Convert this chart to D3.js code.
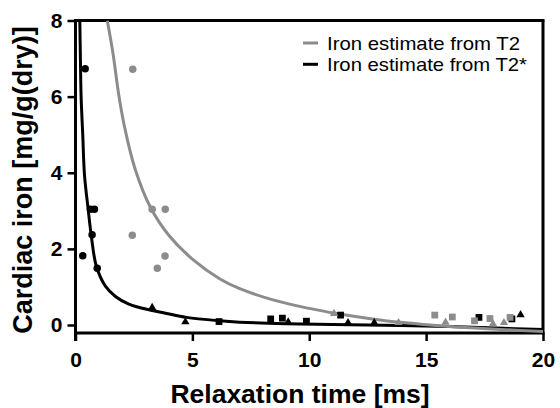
<!DOCTYPE html>
<html>
<head>
<meta charset="utf-8">
<script src="https://cdn.jsdelivr.net/npm/d3@7"></script>
<style>
  html, body { margin: 0; padding: 0; background: #fff; }
  svg { display: block; }
  text { font-family: "Liberation Sans", Arial, Helvetica, sans-serif; }
</style>
</head>
<body>
<svg id="chart" width="560" height="408"></svg>
<script>
// ---- data ----
const xTicks = [0, 5, 10, 15, 20];
const yTicks = [0, 2, 4, 6, 8];
const xLabel = "Relaxation time [ms]";
const yLabel = "Cardiac iron [mg/g(dry)]";
const legendLabels = ["Iron estimate from T2", "Iron estimate from T2*"];

// fitted curves
const curveT2 = [[1.36, 8.0], [1.6, 7.15], [1.85, 6.05], [2.1, 5.2], [2.55, 4.1], [3.2, 3.1], [4.0, 2.35], [5.0, 1.73], [6.2, 1.2], [7.0, 0.96], [8.45, 0.66], [9.88, 0.45], [11.3, 0.29], [12.7, 0.16], [13.9, 0.07], [16.0, -0.04], [18.0, -0.11], [20.0, -0.17]];
const curveT2star = [[0.185, 8.0], [0.21, 7.0], [0.24, 6.0], [0.31, 5.0], [0.385, 3.94], [0.54, 3.05], [0.685, 2.3], [0.89, 1.55], [1.28, 1.02], [1.71, 0.75], [2.28, 0.55], [3.28, 0.38], [3.85, 0.31], [4.74, 0.2], [6.17, 0.11], [7.02, 0.075], [9.0, 0.035], [11.0, 0.015], [13.88, -0.01], [16.0, -0.04], [18.0, -0.08], [20.0, -0.12]];

// measured points
const t2starCircles = [[0.415, 6.73], [0.64, 3.04], [0.81, 3.04], [0.71, 2.37], [0.31, 1.82], [0.93, 1.49]];
const t2Circles = [[2.45, 6.72], [3.28, 3.04], [3.84, 3.04], [2.43, 2.36], [3.83, 1.81], [3.5, 1.49]];
const t2starTriangles = [[3.28, 0.46], [4.70, 0.08], [9.1, 0.08], [11.66, 0.06], [12.78, 0.06], [19.04, 0.27]];
const t2starSquares = [[6.14, 0.09], [8.35, 0.16], [8.85, 0.18], [9.88, 0.1], [11.34, 0.26], [17.26, 0.2], [18.67, 0.16]];
const t2Squares = [[15.37, 0.26], [16.12, 0.21], [17.07, 0.11], [17.73, 0.17], [18.59, 0.2]];
const t2Triangles = [[11.06, 0.3], [13.82, 0.06], [15.83, 0.07], [17.86, 0.03], [18.33, 0.06]];

// ---- drawing ----
const GRAY = "#8c8c8c";
const BLACK = "#000";
const svg = d3.select("#chart");

const plotL = 75.5, plotR = 543, plotT = 20.5, axisY = 333;
const x = d3.scaleLinear().domain([0, 20]).range([plotL, plotR]);
const y = d3.scaleLinear().domain([0, 8]).range([325, plotT]);

// clip
svg.append("defs").append("clipPath").attr("id", "plotclip")
  .append("rect").attr("x", plotL).attr("y", plotT).attr("width", plotR - plotL).attr("height", axisY - plotT);

// frame: top & right
svg.append("line").attr("x1", plotL).attr("x2", plotR + 1.5).attr("y1", plotT).attr("y2", plotT)
  .attr("stroke", BLACK).attr("stroke-width", 3);
svg.append("line").attr("x1", plotR).attr("x2", plotR).attr("y1", plotT).attr("y2", axisY)
  .attr("stroke", BLACK).attr("stroke-width", 3);

// x axis
const xAxis = d3.axisBottom(x).tickValues(xTicks).tickSize(8).tickPadding(11).tickFormat(d3.format("d"));
const gx = svg.append("g").attr("transform", `translate(0,${axisY})`).call(xAxis);
gx.select(".domain").attr("stroke-width", 3).attr("d", `M${plotL - 1.5},0H${plotR + 1.5}`);
gx.selectAll(".tick line").attr("stroke-width", 2.5);
gx.selectAll(".tick text").attr("font-size", 21).attr("font-weight", "bold").attr("fill", BLACK)
  .attr("font-family", "Liberation Sans, Arial, sans-serif").attr("dy", "0.71em");

// y axis
const yAxis = d3.axisLeft(y).tickValues(yTicks).tickSize(8).tickPadding(5).tickFormat(d3.format("d"));
const gy = svg.append("g").attr("transform", `translate(${plotL},0)`).call(yAxis);
gy.select(".domain").attr("stroke-width", 3).attr("d", `M0,${plotT - 1.5}V${axisY + 8}`);
gy.selectAll(".tick line").attr("stroke-width", 2.5);
gy.selectAll(".tick text").attr("font-size", 21).attr("font-weight", "bold").attr("fill", BLACK)
  .attr("font-family", "Liberation Sans, Arial, sans-serif");

// curves
const line = d3.line().x(d => x(d[0])).y(d => y(d[1])).curve(d3.curveCatmullRom.alpha(0.5));
const plot = svg.append("g").attr("clip-path", "url(#plotclip)");
plot.append("path").datum(curveT2star).attr("d", line).attr("fill", "none")
  .attr("stroke", BLACK).attr("stroke-width", 3);
plot.append("path").datum(curveT2).attr("d", line).attr("fill", "none")
  .attr("stroke", GRAY).attr("stroke-width", 3);

// markers
function drawPoints(data, type, size, color) {
  const sym = d3.symbol().type(type).size(size);
  svg.append("g").selectAll("path").data(data).join("path")
    .attr("d", sym)
    .attr("transform", d => `translate(${x(d[0])},${y(d[1])})`)
    .attr("fill", color);
}
drawPoints(t2starCircles, d3.symbolCircle, 44, BLACK);
drawPoints(t2starTriangles, d3.symbolTriangle, 30, BLACK);
drawPoints(t2starSquares, d3.symbolSquare, 46, BLACK);
drawPoints(t2Circles, d3.symbolCircle, 44, GRAY);
drawPoints(t2Triangles, d3.symbolTriangle, 30, GRAY);
drawPoints(t2Squares, d3.symbolSquare, 46, GRAY);

// legend
const legendColors = [GRAY, BLACK];
const lg = svg.append("g");
legendLabels.forEach((lab, i) => {
  const cy = 43 + i * 21.3;
  lg.append("line").attr("x1", 303).attr("x2", 318).attr("y1", cy).attr("y2", cy)
    .attr("stroke", legendColors[i]).attr("stroke-width", 3);
  lg.append("text").attr("x", 327).attr("y", cy + 7).attr("font-size", 19)
    .attr("textLength", i === 0 ? 193 : 200).attr("lengthAdjust", "spacingAndGlyphs")
    .attr("fill", BLACK).text(lab);
});

// axis titles
svg.append("text").attr("x", 300).attr("y", 403).attr("text-anchor", "middle")
  .attr("font-size", 26.5).attr("font-weight", "bold").attr("fill", BLACK).text(xLabel);
svg.append("text").attr("transform", "translate(32,180) rotate(-90)").attr("text-anchor", "middle")
  .attr("font-size", 27).attr("font-weight", "bold").attr("fill", BLACK).text(yLabel);
</script>
</body>
</html>
